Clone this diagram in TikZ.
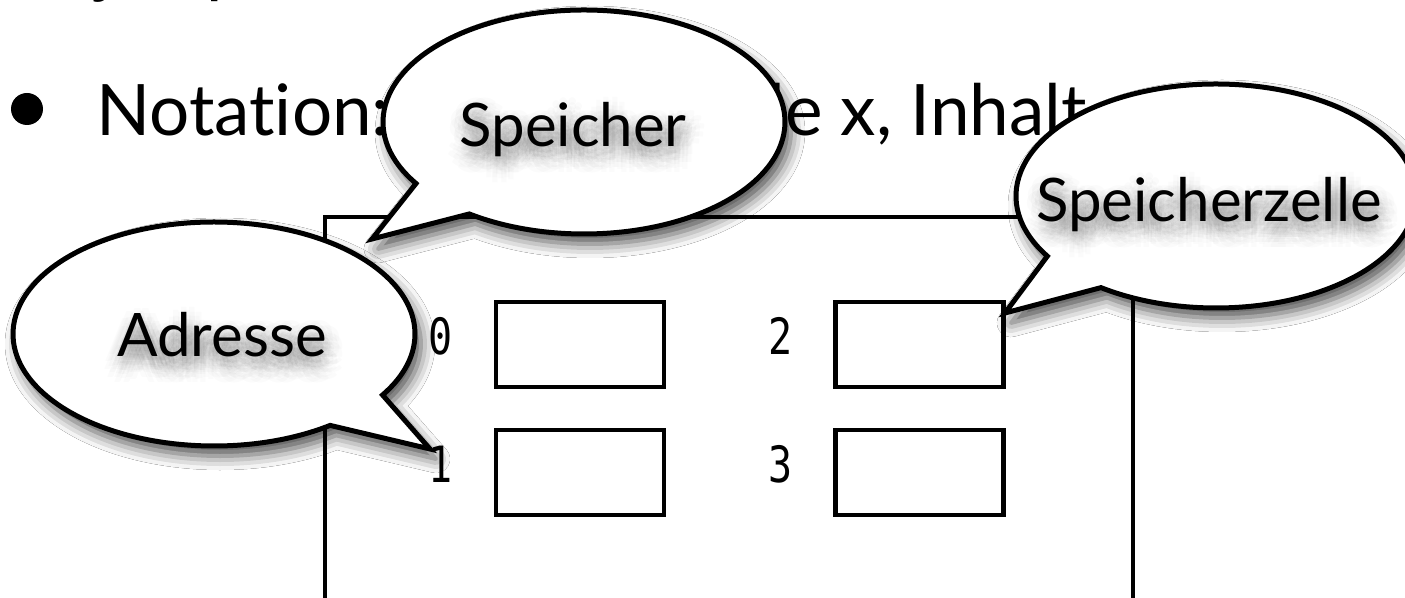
\documentclass[tikz,border=0pt]{standalone}
\usepackage{fontspec}
\setmainfont{Lato}[Ligatures={NoCommon,NoRequired,NoContextual}]
\newfontfamily\digitfont{DejaVu Sans Mono}
\usetikzlibrary{calc,shadows.blur}

% speech bubble: centre, radii, tail base angles (long way round), tip
\newcommand\speechbubble[8]{%
  \draw[bubble] (#7,#8) -- ($(#1,#2)+(#5:#3 and #4)$)
    arc[start angle=#5, end angle=#6, x radius=#3, y radius=#4] -- cycle;
}
% bubble label with a soft shadow beneath it
\newcommand\bubblelabel[4]{%
  \foreach \r in {4,8,12,16}{
    \foreach \k in {0,...,11}{
      \node[bubbletext, opacity=0.016] (#1-shade-\r-\k)
        at ($(#2,#3)+(3,10)+(\k*30+\r*5:\r)$) {#4};
    }
  }
  \node[bubbletext] (#1) at (#2,#3) {#4};
}

\begin{document}
\begin{tikzpicture}[x=0.5pt,y=-0.5pt,
  slidetext/.style={anchor=base west,inner sep=0pt,font=\fontsize{35.5}{40}\selectfont},
  bubbletext/.style={anchor=base,inner sep=0pt,font=\fontsize{30}{34}\selectfont},
  digit/.style={anchor=base,inner sep=0pt,font=\digitfont\fontsize{25}{28}\selectfont},
  cellbox/.style={draw=black,line width=2.2pt,minimum width=84pt,minimum height=42.5pt,inner sep=0pt},
  frame/.style={draw=black,line width=2.3pt},
  bubble/.style={draw=black,fill=white,line width=2.5pt,line join=miter,
    blur shadow={shadow xshift=3pt,shadow yshift=-5pt,shadow blur radius=7pt,shadow opacity=70}},
]
\useasboundingbox (0,0) rectangle (1405,598);
\clip (0,0) rectangle (1405,598);
\fill[white] (0,0) rectangle (1405,598);

% slide text
\node[slidetext] (line1) at (96,-10) {je Speicherzelle eine Zahl,};
\node[circle,fill=black,minimum size=16pt,inner sep=0pt] (bullet) at (27,109) {};
\node[slidetext] (line2) at (96,136) {Notation: Speicherzelle x, Inhalt};

% memory frame, open at the bottom
\draw[frame] (325,640) -- (325,217) -- (1133,217) -- (1133,640);

% cells
\node[cellbox] (c0) at (580,344.5) {};
\node[cellbox] (c1) at (580,472.5) {};
\node[cellbox] (c2) at (919.5,344.5) {};
\node[cellbox] (c3) at (919.5,472.5) {};

% addresses
\node[digit] (a0) at (441,355) {\scalebox{0.8}[1]{0}};
\node[digit] (a1) at (441,483) {\scalebox{0.8}[1]{1}};
\node[digit] (a2) at (781,355) {\scalebox{0.8}[1]{2}};
\node[digit] (a3) at (781,483) {\scalebox{0.8}[1]{3}};

% callouts
\speechbubble{584}{122}{201}{112}{146.7}{484.8}{372}{239}
\bubblelabel{speicher}{573}{147}{Speicher}

\speechbubble{214}{334}{201}{112}{54.7}{393}{430}{449}
\bubblelabel{adresse}{222}{357}{Adresse}

\speechbubble{1216}{196}{200}{112}{147.5}{485.1}{1005}{313}
\bubblelabel{zelle}{1209}{222}{Speicherzelle}
\end{tikzpicture}
\end{document}
